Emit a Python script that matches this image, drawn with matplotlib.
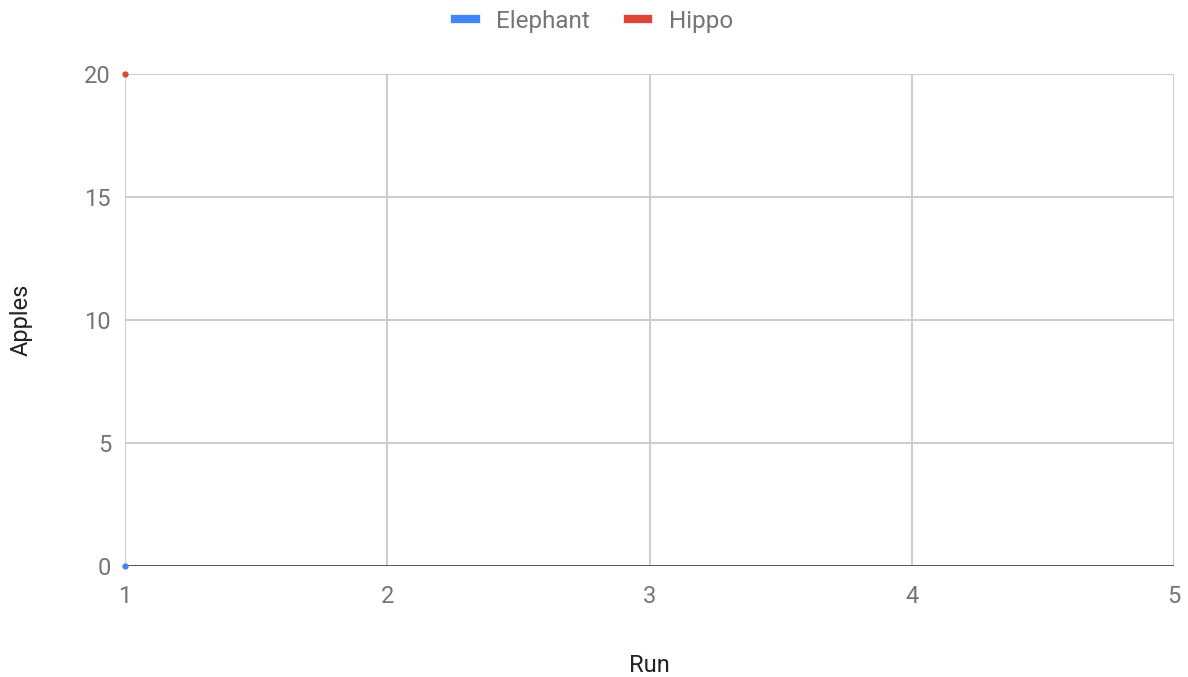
import matplotlib
matplotlib.use("Agg")
import matplotlib.pyplot as plt
from matplotlib.lines import Line2D

plt.rcParams['font.family'] = ['Roboto', 'DejaVu Sans']

runs = [1, 2, 3, 4, 5]
elephant = [0, None, None, None, None]
hippo = [20, None, None, None, None]
x_ticks = [1, 2, 3, 4, 5]
y_ticks = [0, 5, 10, 15, 20]

blue = '#4285F4'
red = '#DB4437'
text_gray = '#757575'

fig = plt.figure(figsize=(11.88, 6.77), dpi=100)
ax = fig.add_axes([125/1188, 1 - 566/677, (1174 - 125)/1188, (566 - 74)/677])

def pts(values):
    xs = [r for r, v in zip(runs, values) if v is not None]
    ys = [v for v in values if v is not None]
    return xs, ys

ex, ey = pts(elephant)
hx, hy = pts(hippo)
ax.plot(ex, ey, color=blue, lw=2, marker='o', ms=3.5, zorder=5, clip_on=False)
ax.plot(hx, hy, color=red, lw=2, marker='o', ms=3.5, zorder=5, clip_on=False)

ax.set_xlim(1, 5)
ax.set_ylim(0, 20)
ax.set_xticks(x_ticks)
ax.set_yticks(y_ticks)
ax.grid(True, color='#cccccc', lw=1.4)
ax.axhline(0, color='#333333', lw=1.8, zorder=4)
for s in ax.spines.values():
    s.set_visible(False)
ax.tick_params(length=0, labelsize=17, labelcolor=text_gray)
ax.tick_params(axis='y', pad=10)
ax.tick_params(axis='x', pad=14)

ax.set_xlabel('Run', fontsize=17, color='#222222', labelpad=33)
ax.set_ylabel('Apples', fontsize=17, color='#222222', labelpad=37)

handles = [Line2D([], [], color=blue, lw=6), Line2D([], [], color=red, lw=6)]
fig.legend(handles, ['Elephant', 'Hippo'], loc='upper center', bbox_to_anchor=(0.5, 1.018),
           ncol=2, frameon=False, fontsize=17.5, labelcolor=text_gray,
           handlelength=0.85, columnspacing=1.55, handletextpad=0.85)

fig.savefig('out.png', dpi=100)
